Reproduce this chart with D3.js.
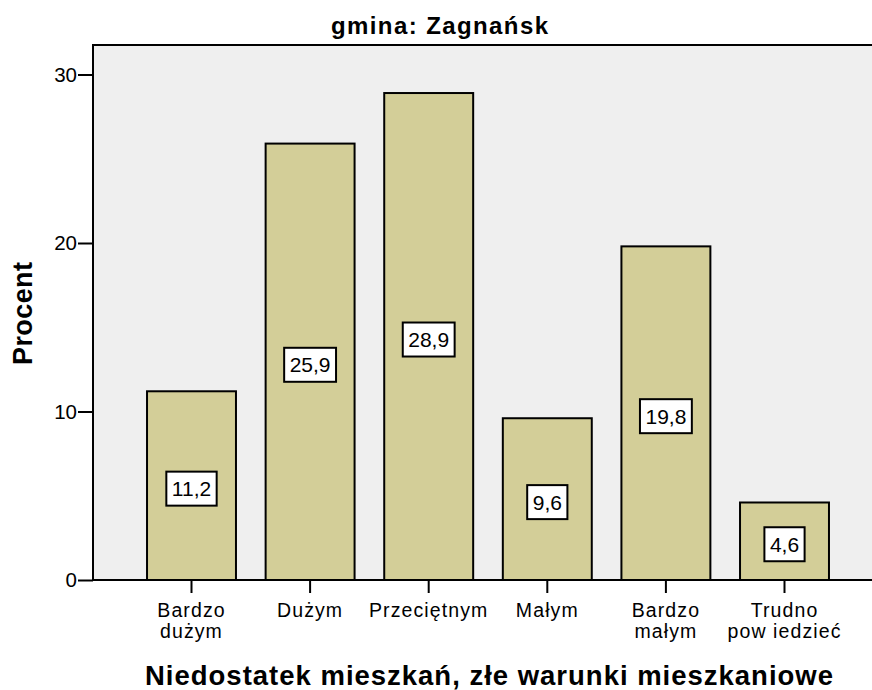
<!DOCTYPE html>
<html>
<head>
<meta charset="utf-8">
<script src="https://cdn.jsdelivr.net/npm/d3@7"></script>
<style>
  body { margin: 0; background: #fff; }
  text { font-family: "Liberation Sans", Arial, sans-serif; }
</style>
</head>
<body>
<svg id="chart" width="872" height="690"></svg>
<script>
// data
var categories = ["Bardzo|dużym", "Dużym", "Przeciętnym", "Małym", "Bardzo|małym", "Trudno|pow iedzieć"];
var values = [11.2, 25.9, 28.9, 9.6, 19.8, 4.6];
var yTicks = [0, 10, 20, 30];

var svg = d3.select("#chart");
var plotLeft = 93, plotTop = 45, plotBottom = 580, plotRight = 872;
var FONT = "Liberation Sans, Arial, sans-serif";

var x = d3.scaleBand()
    .domain(categories)
    .range([132.2, 843.8])
    .paddingInner(0.25)
    .paddingOuter(0.125);

var y = d3.scaleLinear()
    .domain([0, 10])
    .range([plotBottom, 411.5]);

// plot background
svg.append("rect")
    .attr("x", plotLeft).attr("y", plotTop)
    .attr("width", plotRight - plotLeft).attr("height", plotBottom - plotTop)
    .style("fill", "#efefef");

// bars
svg.selectAll("rect.bar")
    .data(values)
    .enter().append("rect")
    .attr("class", "bar")
    .attr("x", function(d, i) { return x(categories[i]); })
    .attr("y", function(d) { return y(d); })
    .attr("width", x.bandwidth())
    .attr("height", function(d) { return plotBottom - y(d); })
    .style("fill", "#d3ce98")
    .style("stroke", "#000")
    .style("stroke-width", 2);

// value labels
var lab = svg.selectAll("g.lab")
    .data(values)
    .enter().append("g")
    .attr("class", "lab")
    .attr("transform", function(d, i) {
        var cx = x(categories[i]) + x.bandwidth() / 2;
        var cy = (y(d) + plotBottom) / 2 + 3;
        return "translate(" + cx + "," + cy + ")";
    });

lab.append("text")
    .attr("text-anchor", "middle")
    .attr("dy", "0.36em")
    .style("font-size", "21px")
    .text(function(d) { return String(d).replace(".", ","); });

lab.each(function() {
    var g = d3.select(this);
    var bb = g.select("text").node().getBBox();
    g.insert("rect", "text")
        .attr("x", bb.x - 5.5)
        .attr("y", -17)
        .attr("width", bb.width + 11)
        .attr("height", 34)
        .style("fill", "#fff")
        .style("stroke", "#000")
        .style("stroke-width", 2);
});

// y axis
var yAxis = svg.append("g")
    .attr("transform", "translate(" + plotLeft + ",0)")
    .call(d3.axisLeft(y).tickValues(yTicks).tickSize(15).tickPadding(1));
yAxis.select(".domain").remove();
yAxis.selectAll(".tick line").style("stroke", "#000").style("stroke-width", 2);
yAxis.selectAll(".tick text").style("font-size", "20.5px").style("fill", "#000")
    .style("font-family", FONT);

// x axis
var xAxis = svg.append("g")
    .attr("transform", "translate(0," + plotBottom + ")")
    .call(d3.axisBottom(x).tickSize(13).tickFormat(""));
xAxis.select(".domain").remove();
xAxis.selectAll(".tick line").style("stroke", "#000").style("stroke-width", 2);

xAxis.selectAll(".tick").each(function(d) {
    var lines = d.split("|");
    var t = d3.select(this).append("text")
        .attr("text-anchor", "middle")
        .style("font-size", "19.5px")
        .style("letter-spacing", "1.1px")
        .style("fill", "#000")
        .style("font-family", FONT);
    lines.forEach(function(s, k) {
        t.append("tspan").attr("x", 0).attr("y", 37 + k * 21).text(s);
    });
});

// frame lines: top, left, bottom
svg.append("line").attr("x1", plotLeft).attr("x2", plotRight).attr("y1", plotTop).attr("y2", plotTop)
    .style("stroke", "#000").style("stroke-width", 2);
svg.append("line").attr("x1", plotLeft).attr("x2", plotLeft).attr("y1", plotTop - 1).attr("y2", plotBottom + 1)
    .style("stroke", "#000").style("stroke-width", 2);
svg.append("line").attr("x1", plotLeft).attr("x2", plotRight).attr("y1", plotBottom).attr("y2", plotBottom)
    .style("stroke", "#000").style("stroke-width", 2);

// titles
svg.append("text")
    .attr("x", 331).attr("y", 34)
    .attr("textLength", 217).attr("lengthAdjust", "spacing")
    .style("font-size", "24px").style("font-weight", "bold")
    .text("gmina: Zagnańsk");

svg.append("text")
    .attr("transform", "translate(32,365) rotate(-90)")
    .attr("textLength", 103).attr("lengthAdjust", "spacing")
    .style("font-size", "27px").style("font-weight", "bold")
    .text("Procent");

svg.append("text")
    .attr("x", 145).attr("y", 685)
    .attr("textLength", 688).attr("lengthAdjust", "spacing")
    .style("font-size", "27.5px").style("font-weight", "bold")
    .text("Niedostatek mieszkań, złe warunki mieszkaniowe");
</script>
</body>
</html>
